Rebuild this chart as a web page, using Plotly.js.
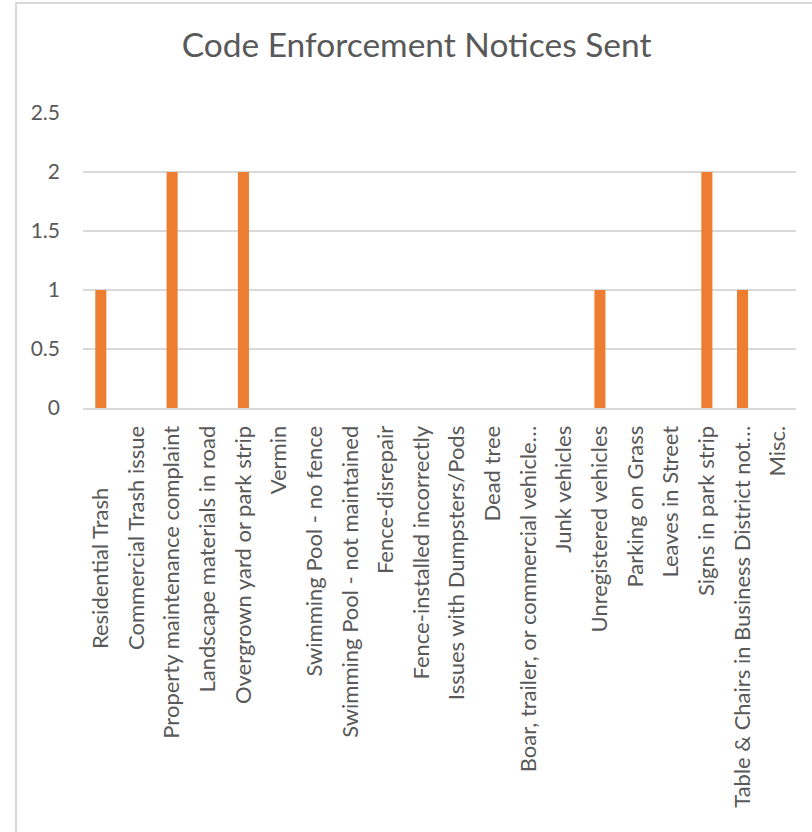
<!DOCTYPE html>
<html>
<head>
<meta charset="utf-8">
<script src="https://cdn.plot.ly/plotly-3.0.1.min.js"></script>
<style>
  html, body { margin: 0; padding: 0; background: #fff; }
  #wrap { position: relative; width: 812px; height: 832px; overflow: hidden; }
  #frame { position: absolute; left: 15px; top: 2px; width: 820px; height: 850px;
           border-left: 2px solid #d9d9d9; border-top: 2px solid #d9d9d9; pointer-events: none; }
  #chart { position: absolute; left: 0; top: 0; width: 812px; height: 832px; }
</style>
</head>
<body>
<div id="wrap">
  <div id="chart"></div>
  <div id="frame"></div>
</div>
<script>
const categories = [
  "Residential Trash\u00A0\u00A0\u00A0\u00A0\u00A0\u00A0\u00A0\u00A0\u00A0\u00A0\u00A0",
  "Commercial Trash issue",
  "Property maintenance complaint",
  "Landscape materials in road",
  "Overgrown yard or park strip",
  "Vermin",
  "Swimming Pool - no fence",
  "Swimming Pool - not maintained",
  "Fence-disrepair",
  "Fence-installed incorrectly",
  "Issues with Dumpsters/Pods",
  "Dead tree",
  "Boar, trailer, or commercial vehicle…",
  "Junk vehicles",
  "Unregistered vehicles",
  "Parking on Grass",
  "Leaves in Street",
  "Signs in park strip",
  "Table & Chairs in Business District not…",
  "Misc."
];
const noticesSent = [1, 0, 2, 0, 2, 0, 0, 0, 0, 0, 0, 0, 0, 0, 1, 0, 0, 2, 1, 0];
const yTicks = [0, 0.5, 1, 1.5, 2, 2.5];
const yTickLabels = ["0", "0.5", "1", "1.5", "2", "2.5"];

const font = "Lato, 'Open Sans', 'Liberation Sans', sans-serif";

Plotly.newPlot("chart", [{
  type: "bar",
  x: categories,
  y: noticesSent,
  marker: { color: "#ED7D31" },
  hoverinfo: "x+y"
}], {
  width: 812,
  height: 832,
  margin: { l: 83, r: 16, t: 113, b: 424, pad: 0 },
  paper_bgcolor: "#ffffff",
  plot_bgcolor: "#ffffff",
  bargap: 0.69,
  showlegend: false,
  title: {
    text: "Code Enforcement Notices Sent",
    font: { family: font, size: 33.5, color: "#595959" },
    x: 0.513, xanchor: "center",
    y: 0.945, yanchor: "middle"
  },
  xaxis: {
    type: "category",
    tickangle: -90,
    tickfont: { family: font, size: 22, color: "#595959" },
    showgrid: false,
    showline: true,
    linecolor: "#d9d9d9",
    linewidth: 2,
    ticks: "",
    ticklabelstandoff: 7,
    automargin: false
  },
  yaxis: {
    range: [0, 2.5],
    tickvals: yTicks,
    ticktext: yTickLabels,
    tickfont: { family: font, size: 21, color: "#595959" },
    showgrid: true,
    gridcolor: "#d9d9d9",
    gridwidth: 2,
    zeroline: false,
    showline: false,
    ticks: "",
    ticklabelstandoff: 22,
    automargin: false
  }
}, { displayModeBar: false, staticPlot: true });
</script>
</body>
</html>
